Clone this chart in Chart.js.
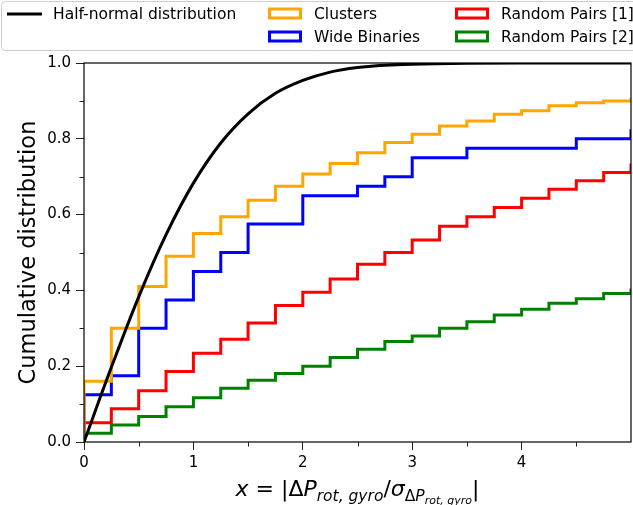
<!DOCTYPE html>
<html>
<head>
<meta charset="utf-8">
<script src="https://cdn.jsdelivr.net/npm/chart.js@4/dist/chart.umd.min.js"></script>
<style>
  html, body { margin: 0; padding: 0; background: #fff; }
  #wrap { width: 633px; height: 505px; position: relative; }
</style>
</head>
<body>
<div id="wrap"><canvas id="myChart"></canvas></div>
<script>
// bin edges of the cumulative step curves (first edge doubled so the curve starts at 0)
var binEdges = [0, 0, 0.25, 0.5, 0.75, 1, 1.25, 1.5, 1.75, 2, 2.25, 2.5, 2.75, 3, 3.25, 3.5, 3.75, 4, 4.25, 4.5, 4.75, 5];

var clusters     = [0, 0.16, 0.30, 0.41, 0.49, 0.55, 0.594, 0.638, 0.675, 0.707, 0.735, 0.763, 0.79, 0.812, 0.834, 0.847, 0.865, 0.874, 0.887, 0.895, 0.90, 0.908];
var wideBinaries = [0, 0.125, 0.175, 0.30, 0.375, 0.45, 0.50, 0.575, 0.575, 0.65, 0.65, 0.675, 0.70, 0.75, 0.75, 0.775, 0.775, 0.775, 0.775, 0.80, 0.80, 0.825];
var randomPairs1 = [0, 0.051, 0.088, 0.135, 0.186, 0.234, 0.271, 0.314, 0.36, 0.395, 0.43, 0.469, 0.50, 0.533, 0.569, 0.594, 0.619, 0.643, 0.667, 0.689, 0.711, 0.735];
var randomPairs2 = [0, 0.023, 0.045, 0.067, 0.093, 0.117, 0.142, 0.163, 0.181, 0.20, 0.223, 0.245, 0.265, 0.28, 0.30, 0.317, 0.335, 0.35, 0.366, 0.378, 0.392, 0.405];

// half-normal curve
var halfNormalX = [0, 0.25, 0.5, 0.75, 1, 1.25, 1.5, 1.75, 2, 2.25, 2.5, 2.75, 3, 3.5, 4, 4.5, 5];
var halfNormalY = [0, 0.197, 0.383, 0.547, 0.683, 0.789, 0.866, 0.920, 0.954, 0.976, 0.988, 0.994, 0.997, 0.9995, 1.0, 1.0, 1.0];

var yTickLabels = ['0.0', '0.2', '0.4', '0.6', '0.8', '1.0'];
var xTickLabels = ['0', '1', '2', '3', '4'];
var yMinorTicks = [0.1, 0.3, 0.5, 0.7, 0.9];
var xMinorTicks = [0.5, 1.5, 2.5, 3.5, 4.5];

var FONT = '"DejaVu Sans", sans-serif';
Chart.defaults.font.family = FONT;
Chart.defaults.color = '#000';

function toPoints(xs, ys) {
  return xs.map(function (x, i) { return { x: x, y: ys[i] }; });
}

function stepSet(label, color, values) {
  return {
    label: label,
    data: toPoints(binEdges, values),
    borderColor: color,
    backgroundColor: color,
    borderWidth: 3,
    stepped: true,
    fill: false,
    pointRadius: 0
  };
}

// spines, minor ticks, custom legend and the math x label
var extras = {
  id: 'extras',
  afterDatasetsDraw: function (chart) {
    var a = chart.chartArea, c = chart.ctx;
    var xs = chart.scales.x, ys = chart.scales.y;
    c.save();
    c.strokeStyle = '#000';
    c.lineWidth = 1.2;
    c.strokeRect(a.left, a.top, a.right - a.left, a.bottom - a.top);
    c.strokeStyle = '#222';
    c.lineWidth = 1;
    c.beginPath();
    yMinorTicks.forEach(function (v) {
      var py = Math.round(ys.getPixelForValue(v)) + 0.5;
      c.moveTo(a.left - 4.5, py);
      c.lineTo(a.left, py);
    });
    xMinorTicks.forEach(function (v) {
      var px = Math.round(xs.getPixelForValue(v)) + 0.5;
      c.moveTo(px, a.bottom);
      c.lineTo(px, a.bottom + 4.5);
    });
    c.stroke();
    c.restore();
  },
  afterDraw: function (chart) {
    var c = chart.ctx;
    c.save();
    // legend frame
    c.fillStyle = 'rgba(255,255,255,0.8)';
    c.strokeStyle = '#cccccc';
    c.lineWidth = 1;
    c.beginPath();
    c.roundRect(1.5, 1.5, 660, 49, 4);
    c.fill();
    c.stroke();

    var slots = [[7, 14], [268, 13.5], [268, 36.5], [455, 13.5], [455, 36.5]];
    c.font = '15.5px ' + FONT;
    c.textBaseline = 'middle';
    chart.data.datasets.forEach(function (ds, i) {
      var s = slots[i];
      c.strokeStyle = ds.borderColor;
      c.lineWidth = 3;
      if (ds.stepped) {
        c.fillStyle = '#fff';
        c.fillRect(s[0], s[1] - 6, 34, 12);
        c.strokeRect(s[0] + 1.5, s[1] - 4.5, 31, 9);
      } else {
        c.beginPath();
        c.moveTo(s[0], s[1]);
        c.lineTo(s[0] + 35, s[1]);
        c.stroke();
      }
      c.fillStyle = '#000';
      c.fillText(ds.label, s[0] + 46, s[1] + 1);
    });

    // x-axis label with subscripts
    var a = chart.chartArea;
    var parts = [
      ['x', 'italic', 22, 0],
      [' = |Δ', 'normal', 22, 0],
      ['P', 'italic', 22, 0],
      ['rot, gyro', 'italic', 15.5, 5],
      ['/', 'normal', 22, 0],
      ['σ', 'italic', 22, 0],
      ['Δ', 'normal', 15.5, 5],
      ['P', 'italic', 15.5, 5],
      ['rot, gyro', 'italic', 11, 8],
      ['|', 'normal', 22, 0]
    ];
    var total = 0;
    parts.forEach(function (p) {
      c.font = p[1] + ' ' + p[2] + 'px ' + FONT;
      p.w = c.measureText(p[0]).width;
      total += p.w;
    });
    var x = (a.left + a.right) / 2 - total / 2;
    var base = 496;
    c.textBaseline = 'alphabetic';
    c.textAlign = 'left';
    c.fillStyle = '#000';
    parts.forEach(function (p) {
      c.font = p[1] + ' ' + p[2] + 'px ' + FONT;
      c.fillText(p[0], x, base + p[3]);
      x += p.w;
    });
    c.restore();
  }
};

var ctx = document.getElementById('myChart').getContext('2d');
var myChart = new Chart(ctx, {
  type: 'line',
  data: {
    datasets: [
      {
        label: 'Half-normal distribution',
        data: toPoints(halfNormalX, halfNormalY),
        borderColor: '#000',
        backgroundColor: '#000',
        borderWidth: 3,
        cubicInterpolationMode: 'monotone',
        fill: false,
        pointRadius: 0
      },
      stepSet('Clusters', '#FFA500', clusters),
      stepSet('Wide Binaries', '#0000FF', wideBinaries),
      stepSet('Random Pairs [1]', '#FF0000', randomPairs1),
      stepSet('Random Pairs [2]', '#008000', randomPairs2)
    ]
  },
  options: {
    responsive: true,
    maintainAspectRatio: false,
    animation: false,
    layout: { padding: { top: 63, right: 2, left: 0, bottom: 0 } },
    plugins: { legend: { display: false }, tooltip: { enabled: false } },
    scales: {
      x: {
        type: 'linear',
        min: 0,
        max: 5,
        afterFit: function (s) { s.height = 63; },
        afterBuildTicks: function (s) { s.ticks = s.ticks.filter(function (t) { return t.value < 5; }); },
        ticks: {
          stepSize: 1,
          autoSkip: false,
          maxRotation: 0,
          padding: 4,
          font: { size: 15 },
          callback: function (v) {
            var i = xTickLabels.indexOf(String(v));
            return i >= 0 ? xTickLabels[i] : '';
          }
        },
        grid: { drawOnChartArea: false, tickLength: 8, tickColor: '#222' },
        border: { display: false }
      },
      y: {
        min: 0,
        max: 1,
        afterFit: function (s) { s.width = 84; },
        ticks: {
          stepSize: 0.2,
          autoSkip: false,
          padding: 5,
          font: { size: 15 },
          callback: function (v) {
            var lbl = v.toFixed(1);
            return yTickLabels.indexOf(lbl) >= 0 ? lbl : '';
          }
        },
        grid: { drawOnChartArea: false, tickLength: 8, tickColor: '#222' },
        border: { display: false },
        title: {
          display: true,
          text: 'Cumulative distribution',
          font: { size: 22.5 },
          padding: { top: 16, bottom: 0 }
        }
      }
    }
  },
  plugins: [extras]
});
</script>
</body>
</html>
